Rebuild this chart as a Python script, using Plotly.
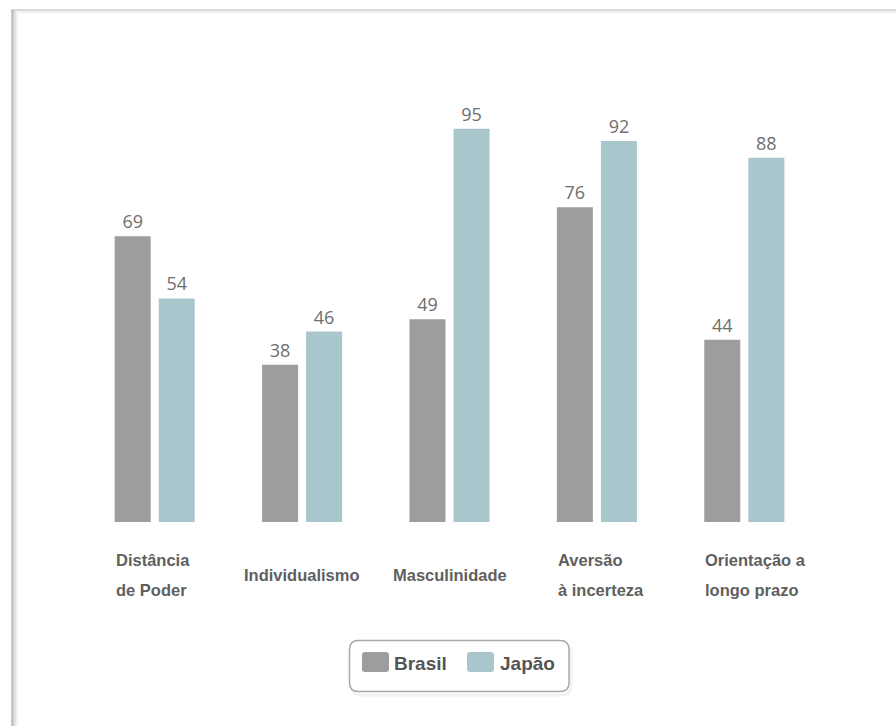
import plotly.graph_objects as go

# ---- data ----
categories = ["Distância de Poder", "Individualismo", "Masculinidade",
              "Aversão à incerteza", "Orientação a longo prazo"]
label_lines = [["Distância", "de Poder"], ["Individualismo"], ["Masculinidade"],
               ["Aversão", "à incerteza"], ["Orientação a", "longo prazo"]]
series_names = ["Brasil", "Japão"]
brasil = [69, 38, 49, 76, 44]
japao = [54, 46, 95, 92, 88]
series_colors = ["#9d9c9e", "#a9c6cd"]

W, H = 896, 726
L, R, T, B_M = 81, 78, 108, 204
PW = W - L - R
PH = H - T - B_M
BASE = H - B_M  # pixel y of paper y=0

fig = go.Figure()
x_idx = list(range(len(categories)))
for name, vals, col in zip(series_names, [brasil, japao], series_colors):
    fig.add_trace(go.Bar(
        x=x_idx, y=vals, name=name, marker=dict(color=col, line=dict(width=0)),
        text=[str(v) for v in vals], textposition="outside", cliponaxis=False,
        textfont=dict(family="Open Sans", size=18, color="#6e6e6e"),
        showlegend=False, hoverinfo="skip"))


def pshape(x0, y0, x1, y1, **kw):
    d = dict(xref="paper", yref="paper", xsizemode="pixel", ysizemode="pixel",
             xanchor=0, yanchor=0, x0=x0 - L, x1=x1 - L, y0=BASE - y0, y1=BASE - y1)
    d.update(kw)
    return d


def rpath(x0, y0, x1, y1, r):
    def X(v):
        return v - L

    def Y(v):
        return BASE - v
    return (f"M{X(x0 + r)},{Y(y0)} L{X(x1 - r)},{Y(y0)} Q{X(x1)},{Y(y0)} {X(x1)},{Y(y0 + r)} "
            f"L{X(x1)},{Y(y1 - r)} Q{X(x1)},{Y(y1)} {X(x1 - r)},{Y(y1)} "
            f"L{X(x0 + r)},{Y(y1)} Q{X(x0)},{Y(y1)} {X(x0)},{Y(y1 - r)} "
            f"L{X(x0)},{Y(y0 + r)} Q{X(x0)},{Y(y0)} {X(x0 + r)},{Y(y0)} Z")


def ppath(path, **kw):
    d = dict(type="path", xref="paper", yref="paper", xsizemode="pixel", ysizemode="pixel",
             xanchor=0, yanchor=0, path=path)
    d.update(kw)
    return d


shapes = []
# frame with shadow
shapes.append(pshape(11, 12, W + 2, 12, type="line", line=dict(color="#f0f0f0", width=2)))
shapes.append(pshape(11, 10, W + 2, 10, type="line", line=dict(color="#dadada", width=2)))
shapes.append(pshape(17, 11, 17, H + 2, type="line", line=dict(color="#f3f3f3", width=2)))
shapes.append(pshape(15, 11, 15, H + 2, type="line", line=dict(color="#e2e2e2", width=2)))
shapes.append(pshape(12.5, 10, 12.5, H + 2, type="line", line=dict(color="#bdbdbd", width=2.5)))

# legend box
shapes.append(ppath(rpath(352, 644, 571, 695, 9), line=dict(color="#f2f2f2", width=3)))
shapes.append(ppath(rpath(349.5, 640.5, 569, 691.5, 9), line=dict(color="#a8a8a8", width=1.5),
                    fillcolor="white"))
legend_sq_x = [362, 467]
legend_tx_x = [392, 498]
for i, (name, col) in enumerate(zip(series_names, series_colors)):
    shapes.append(ppath(rpath(legend_sq_x[i], 652, legend_sq_x[i] + 27, 672, 3),
                        line=dict(width=0), fillcolor=col))

annotations = []
for i, name in enumerate(series_names):
    annotations.append(dict(
        xref="paper", yref="paper", x=(legend_tx_x[i] - L) / PW, y=(BASE - 663) / PH,
        xanchor="left", yanchor="middle", showarrow=False, text=f"<b>{name}</b>",
        font=dict(family="Liberation Sans", size=19, color="#555555")))

# category labels
lbl_font = dict(family="Liberation Sans", size=16.5, color="#5f5f5f")
single_y = 575
multi_y = [560, 590]
for i, lines in enumerate(label_lines):
    if len(lines) == 1:
        annotations.append(dict(xref="x", yref="paper", x=x_idx[i], y=(BASE - single_y) / PH,
                                xanchor="center", yanchor="middle", showarrow=False,
                                text=f"<b>{lines[0]}</b>", font=lbl_font))
    else:
        for j, ln in enumerate(lines):
            annotations.append(dict(xref="x", yref="paper", x=x_idx[i], y=(BASE - multi_y[j]) / PH,
                                    xanchor="left", yanchor="middle", xshift=-41,
                                    showarrow=False, text=f"<b>{ln}</b>", font=lbl_font))

fig.update_layout(
    width=W, height=H, margin=dict(l=L, r=R, t=T, b=B_M),
    paper_bgcolor="white", plot_bgcolor="white",
    barmode="group", bargap=0.4024, bargroupgap=0.182,
    xaxis=dict(range=[-0.5, 4.5], showticklabels=False, showgrid=False, zeroline=False,
               showline=False, ticks=""),
    yaxis=dict(range=[0, 100], visible=False),
    shapes=shapes, annotations=annotations, showlegend=False,
)

fig.write_html("out.html")
